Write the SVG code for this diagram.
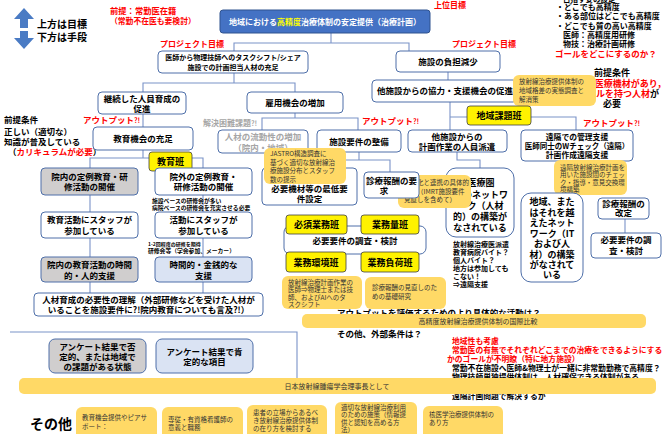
<svg xmlns="http://www.w3.org/2000/svg" width="672" height="434" viewBox="0 0 672 434">
<style>
text{font-family:"Noto Sans CJK JP","Noto Sans",sans-serif;font-weight:700;fill:#000}
.c{text-anchor:middle}
.f{font-size:8.5px}
.s{font-size:7px}
.r{fill:#FF0000}
.gy{fill:#A6A6A6}
.bx{fill:#fff;stroke:#4E6FA9;stroke-width:1}
.gb{fill:#D0CECE;stroke:#4E6FA9;stroke-width:1}
.lb{fill:#DAE3F3;stroke:#4E6FA9;stroke-width:1}
.nt{fill:#FFD966}
.ntx{font-size:6.5px;font-weight:400;fill:#333}
.yl{fill:#FFF200;stroke:#404040;stroke-width:0.8}
.ytx{font-size:9px;text-anchor:middle}
.tb{font-size:9px;text-anchor:middle}
#conn line,#conn polyline{stroke:#7A93C8;stroke-width:1.1;fill:none}
</style>

<g id="conn">
<polyline points="331,33 331,43"/>
<polyline points="234,51 234,43 409,43 409,51"/>
<polyline points="234,73 234,83"/>
<polyline points="143,92 143,83 295,83 295,92"/>
<polyline points="143,114 143,127"/>
<polyline points="448,72 448,80"/>
<polyline points="450,102 450,130"/>
<polyline points="450,117 576,117 576,130"/>
<polyline points="295,113 295,118"/>
<polyline points="262,130 262,118 358,118 358,130"/>
<polyline points="359,152 359,160"/>
<polyline points="309,168 309,160 390,160 390,172"/>
<polyline points="143,150 143,158"/>
<polyline points="90,293 90,158 203,158 203,293"/>
<polyline points="457,152 457,160 480,160 480,168"/>
<polyline points="625,219 625,233"/>
<polyline points="10,332 297,332 297,378"/>
</g>

<g id="legend">
<polygon points="24,8 34,19 28,19 28,28 20,28 20,19 14,19" fill="#4A7BC4"/>
<polygon points="20,31 28,31 28,38 34,38 24,49 14,38 20,38" fill="#4A7BC4"/>
<text x="37" y="28" style="font-size:10px">上方は目標</text>
<text x="37" y="41" style="font-size:10px">下方は手段</text>
</g>

<g id="premise-top">
<text x="110" y="14" class="r" style="font-size:8.3px">前提：常勤医在籍</text>
<text x="110" y="24" class="r" style="font-size:7.8px">（常勤不在医も要検討）</text>
</g>

<g id="top-goal">
<text x="434" y="8" class="r" style="font-size:8px">上位目標</text>
<rect x="220" y="10" width="210" height="23" rx="3" fill="#4472C4" stroke="#2F528F"/>
<text x="325" y="24.5" class="c" style="font-size:8px;fill:#fff">地域における<tspan style="fill:#FFFF00">高精度</tspan>治療体制の安定提供（治療計画）</text>
</g>

<g id="goal-notes">
<text x="563" y="1.5" style="font-size:7.5px">目指す姿の設定</text>
<text x="556" y="10" style="font-size:8px">・どこでも高精度</text>
<text x="556" y="19" style="font-size:8px">・ある部位はどこでも高精度</text>
<text x="556" y="29" style="font-size:8px">・どこでも質の高い高精度</text>
<text x="563" y="37.5" style="font-size:8px">医師：高精度用研修</text>
<text x="563" y="46.5" style="font-size:8px">物技：治療計画研修</text>
<text x="555" y="56.5" class="r" style="font-size:8.5px">ゴールをどこにするのか？</text>
</g>

<g id="proj1">
<text x="160" y="47" class="r" style="font-size:8px">プロジェクト目標</text>
<rect x="158" y="51" width="150" height="22" rx="4" class="bx"/>
<text x="233" y="60" class="c" style="font-size:7px">医師から物理技師へのタスクシフト/シェア</text>
<text x="233" y="70" class="c" style="font-size:7px">施設での計画担当人材の充足</text>
</g>

<g id="proj2">
<text x="452" y="47" class="r" style="font-size:8px">プロジェクト目標</text>
<rect x="396" y="51" width="104" height="21" rx="4" class="bx"/>
<text x="448" y="64.5" class="c f">施設の負担減少</text>
</g>

<g id="n-keizoku">
<rect x="98" y="92" width="88" height="22" rx="4" class="bx"/>
<text x="142" y="101.5" class="c f">継続した人員育成の</text>
<text x="142" y="111.5" class="c f">促進</text>
</g>

<g id="n-koyou">
<rect x="247" y="92" width="96" height="21" rx="4" class="bx"/>
<text x="295" y="105.5" class="c f">雇用機会の増加</text>
</g>

<g id="n-tashisetsu">
<rect x="372" y="80" width="145" height="22" rx="4" class="bx"/>
<text x="445" y="94" class="c f">他施設からの協力・支援機会の促進</text>
</g>

<g id="premise-right">
<text x="594" y="76" style="font-size:9px">前提条件</text>
<text x="666" y="87" class="r" style="font-size:9px;text-anchor:end">一定の医療機材があり，</text>
<text x="659" y="97" style="font-size:9px;text-anchor:end"><tspan class="r">スキルを持つ人材</tspan>が</text>
<text x="612" y="107" class="c" style="font-size:9px">必要</text>
</g>

<g id="note-chiiki">
<rect x="513" y="75" width="83" height="31" rx="6" class="nt"/>
<text x="519" y="84" class="ntx">放射線治療提供体制の</text>
<text x="519" y="93" class="ntx">地域格差の実態調査と</text>
<text x="519" y="102" class="ntx">解消策</text>
</g>

<g id="lbl-chiiki">
<rect x="467" y="106" width="64" height="19" rx="3" class="yl"/>
<text x="499" y="119" class="ytx">地域課題班</text>
</g>

<g id="out-right">
<text x="583" y="126" class="r f">アウトプット<tspan style="font-size:7px">?!</tspan></text>
</g>

<g id="n-enkaku">
<rect x="521" y="130" width="112" height="31" rx="4" class="bx"/>
<text x="577" y="140" class="c" style="font-size:7.8px">遠隔での管理支援</text>
<text x="577" y="149" class="c" style="font-size:7.5px">医師同士のWチェック（遠隔）</text>
<text x="577" y="158" class="c" style="font-size:7.8px">計画作成遠隔支援</text>
</g>

<g id="note-enkaku">
<rect x="554" y="160" width="73" height="35" rx="6" class="nt"/>
<text x="560" y="169.5" class="ntx">遠隔放射線治療計画を</text>
<text x="560" y="177" class="ntx">用いた施設間のチェッ</text>
<text x="560" y="184.5" class="ntx">ク・指導・意見交換環</text>
<text x="560" y="192" class="ntx">境構築</text>
</g>

<g id="n-shinryo-kaitei">
<rect x="598" y="198" width="51" height="21" rx="4" class="bx"/>
<text x="623.5" y="206.5" class="c f">診療報酬の</text>
<text x="623.5" y="216" class="c f">改定</text>
</g>

<g id="n-hitsuyo-right">
<rect x="591" y="233" width="70" height="25" rx="4" class="bx"/>
<text x="626" y="243" class="c f">必要要件の調</text>
<text x="626" y="253.5" class="c f">査・検討</text>
</g>

<g id="n-network-wide">
<rect x="521" y="193" width="62" height="89" rx="10" class="bx"/>
<text x="552" y="205" class="tb">地域、また</text>
<text x="552" y="215.5" class="tb">はそれを越</text>
<text x="552" y="226" class="tb">えたネット</text>
<text x="552" y="236.5" class="tb">ワーク（IT</text>
<text x="552" y="247" class="tb">および人</text>
<text x="552" y="257.5" class="tb">材）の構築</text>
<text x="552" y="268" class="tb">がなされて</text>
<text x="552" y="278" class="tb">いる</text>
</g>

<g id="n-keikaku-haken">
<rect x="408" y="130" width="99" height="22" rx="4" class="bx"/>
<text x="457" y="139.5" class="c f">他施設からの</text>
<text x="457" y="149.5" class="c f">計画作業の人員派遣</text>
</g>

<g id="n-network-local">
<rect x="446" y="168" width="68" height="69" rx="10" class="bx"/>
<text x="481" y="186" class="tb">医療圏</text>
<text x="481" y="197.5" class="tb">内のネットワ</text>
<text x="481" y="208.5" class="tb">ーク（人材</text>
<text x="480" y="219.5" class="tb">的）の構築が</text>
<text x="480" y="230.5" class="tb">なされている</text>
</g>

<g id="note-shuyaku">
<rect x="398" y="175" width="73" height="33" rx="6" class="nt"/>
<text x="404" y="185" class="ntx">集約化と連携の具体的</text>
<text x="404" y="193.5" class="ntx">方法（IMRT施設要件</text>
<text x="404" y="202" class="ntx">見直しを含めて）</text>
</g>

<g id="memo-haken">
<text x="453" y="246.5" class="s">放射線治療医派遣</text>
<text x="453" y="254.5" class="s">教育病院バイト？</text>
<text x="453" y="262.5" class="s">個人バイト？</text>
<text x="453" y="270.5" class="s">地方は参加しても</text>
<text x="453" y="278.5" class="s">こない！</text>
<text x="453" y="286.5" class="s">⇒遠隔支援</text>
</g>

<g id="n-ryudosei">
<text x="203" y="126" class="gy" style="font-size:8px">解決困難課題<tspan style="font-size:7px">?!</tspan></text>
<rect x="218" y="130" width="90" height="23" rx="4" class="bx"/>
<text x="263" y="140" class="c f gy">人材の流動性の増加</text>
<text x="263" y="150.5" class="c f gy">（院内・地域）</text>
</g>

<g id="n-shisetsu-yoken">
<text x="362" y="124" class="r f">アウトプット<tspan style="font-size:7px">?!</tspan></text>
<rect x="317" y="130" width="84" height="22" rx="4" class="bx"/>
<text x="359" y="144.5" class="c f">施設要件の整備</text>
</g>

<g id="n-kizai">
<rect x="262" y="168" width="95" height="37" rx="4" class="bx"/>
<text x="309.5" y="192" class="c f">必要機材等の最低要</text>
<text x="309.5" y="202" class="c f">件設定</text>
</g>

<g id="n-shinryo-yokyu">
<rect x="364" y="172" width="55" height="26" rx="4" class="bx"/>
<text x="366" y="183.5" class="f">診療報酬の要</text>
<text x="384" y="194" class="c f">求</text>
</g>

<g id="note-jastro">
<rect x="264" y="148" width="82" height="36" rx="6" class="nt"/>
<text x="270" y="156" class="ntx">JASTRO構造調査に</text>
<text x="270" y="164.5" class="ntx">基づく適切な放射線治</text>
<text x="270" y="173" class="ntx">療施設分布とスタッフ</text>
<text x="270" y="181.5" class="ntx">数の提示</text>
</g>

<g id="n-hitsuyo-center">
<rect x="284" y="226" width="142" height="28" rx="6" class="bx"/>
<text x="355" y="244" class="c f">必要要件の調査・検討</text>
</g>

<g id="lbl-hissu">
<rect x="286" y="215" width="61" height="19" rx="3" class="yl"/>
<text x="316.5" y="228" class="ytx">必須業務班</text>
</g>
<g id="lbl-ryo">
<rect x="361" y="215" width="58" height="19" rx="3" class="yl"/>
<text x="390" y="228" class="ytx">業務量班</text>
</g>
<g id="lbl-kankyo">
<rect x="286" y="252" width="60" height="20" rx="3" class="yl"/>
<text x="316" y="265.5" class="ytx">業務環境班</text>
</g>
<g id="lbl-fuka">
<rect x="361" y="252" width="58" height="20" rx="3" class="yl"/>
<text x="390" y="265.5" class="ytx">業務負荷班</text>
</g>

<g id="note-taskshift">
<rect x="282" y="276" width="80" height="33" rx="6" class="nt"/>
<text x="288" y="284.5" class="ntx">放射線治療計画作業の</text>
<text x="288" y="292" class="ntx">医師⇒物理士または技</text>
<text x="288" y="299.5" class="ntx">師、およびAIへのタ</text>
<text x="288" y="307" class="ntx">スクシフト</text>
</g>
<g id="note-shinryo-kenkyu">
<rect x="365" y="277" width="81" height="32" rx="6" class="nt"/>
<text x="372" y="290" class="ntx">診療報酬の見直しのた</text>
<text x="372" y="298.5" class="ntx">めの基礎研究</text>
</g>

<g id="q-output">
<text x="337" y="316" class="f">アウトプットを評価するためのより具体的な活動は？</text>
<rect x="302" y="314" width="344" height="14" rx="5" class="nt"/>
<text x="478" y="323.5" class="c ntx" style="font-size:7px">高精度放射線治療提供体制の国際比較</text>
<text x="337" y="337" class="f">その他、外部条件は？</text>
</g>

<g id="memo-right">
<text x="452" y="344" class="r" style="font-size:7.8px">地域性も考慮</text>
<text x="452" y="353" class="r" style="font-size:7.8px">常勤医の有無でそれぞれどこまでの治療をできるようにする</text>
<text x="447" y="361.5" class="r" style="font-size:7.8px">かのゴールが不明瞭（特に地方施設）</text>
<text x="452" y="370.5" style="font-size:7.8px">常勤不在施設へ医師&amp;物理士が一緒に非常勤勤務で高精度？</text>
<text x="452" y="379.5" style="font-size:7.8px">物理技師単独提供体制は，人材確保できる体制がある．</text>
<text x="452" y="399" style="font-size:7.8px">遠隔計画問題で解決するか</text>
</g>

<g id="n-output-left">
<text x="4" y="123" class="f">前提条件</text>
<text x="4" y="135" class="f">正しい（適切な）</text>
<text x="4" y="145" class="f">知識が普及している</text>
<text x="8" y="155" class="f">（<tspan class="r">カリキュラムが必要</tspan>）</text>
<text x="83" y="123" class="r f">アウトプット<tspan style="font-size:7px">?!</tspan></text>
<rect x="93" y="127" width="100" height="23" rx="4" class="bx"/>
<text x="143" y="141.5" class="c f">教育機会の充足</text>
</g>

<g id="lbl-kyoiku">
<rect x="149" y="152" width="43" height="19" rx="3" class="yl"/>
<text x="170.5" y="165" class="ytx">教育班</text>
</g>

<g id="n-innai-teirei">
<rect x="41" y="168" width="97" height="27" rx="4" class="gb"/>
<text x="89.5" y="179.5" class="c f">院内の定例教育・研</text>
<text x="89.5" y="190" class="c f">修活動の開催</text>
</g>
<g id="n-ingai-teirei">
<rect x="155" y="168" width="97" height="27" rx="4" class="bx"/>
<text x="203.5" y="179.5" class="c f">院外の定例教育・</text>
<text x="203.5" y="190" class="c f">研修活動の開催</text>
<text x="152" y="202.5" style="font-size:5.8px">施設ベースの研修会が多い</text>
<text x="152" y="209.5" style="font-size:5.8px">病院ベースの研修会を充実させる必要</text>
</g>
<g id="n-innai-sanka">
<rect x="41" y="212" width="97" height="26" rx="4" class="bx"/>
<text x="89.5" y="223" class="c f">教育活動にスタッフが</text>
<text x="89.5" y="233.5" class="c f">参加している</text>
</g>
<g id="n-ingai-sanka">
<rect x="155" y="212" width="97" height="26" rx="4" class="bx"/>
<text x="203.5" y="223" class="c f">活動にスタッフが</text>
<text x="203.5" y="233.5" class="c f">参加している</text>
<text x="148" y="246" style="font-size:5px">1-2回程度の研修を期待</text>
<text x="148" y="253" style="font-size:5.8px">研修会等（学会参加、メーカー）</text>
</g>
<g id="n-innai-shien">
<rect x="41" y="257" width="97" height="25" rx="4" class="gb"/>
<text x="89.5" y="268" class="c f">院内の教育活動の時間</text>
<text x="89.5" y="278.5" class="c f">的・人的支援</text>
</g>
<g id="n-ingai-shien">
<rect x="155" y="257" width="97" height="25" rx="4" class="lb"/>
<text x="203.5" y="268" class="c f">時間的・金銭的な</text>
<text x="203.5" y="278.5" class="c f">支援</text>
</g>
<g id="n-rikai">
<rect x="34" y="293" width="229" height="23" rx="4" class="bx"/>
<text x="148.5" y="302.5" class="c f">人材育成の必要性の理解（外部研修などを受けた人材が</text>
<text x="148.5" y="312.5" class="c f">いることを施設要件に?!院内教育についても言及?!）</text>
</g>

<g id="n-survey-neg">
<rect x="49" y="339" width="97" height="34" rx="6" class="gb"/>
<text x="97.5" y="350" class="c f">アンケート結果で否</text>
<text x="97.5" y="360" class="c f">定的、または地域で</text>
<text x="97.5" y="370" class="c f">の課題がある状態</text>
</g>
<g id="n-survey-pos">
<rect x="156" y="339" width="97" height="34" rx="6" class="lb"/>
<text x="204.5" y="355" class="c f">アンケート結果で肯</text>
<text x="204.5" y="364.5" class="c f">定的な項目</text>
</g>

<g id="bar-jastro">
<rect x="19" y="378" width="637" height="16" rx="5" class="nt"/>
<text x="337" y="389" class="c ntx" style="font-size:7px">日本放射線腫瘍学会理事長として</text>
</g>

<g id="others">
<text x="30" y="429" style="font-size:14px">その他</text>
<rect x="76" y="407" width="81" height="32" rx="6" class="nt"/>
<text x="82" y="420" class="ntx">教育機会提供やピアサ</text>
<text x="82" y="429" class="ntx">ポート：</text>
<rect x="162" y="407" width="81" height="32" rx="6" class="nt"/>
<text x="168" y="422" class="ntx">専従・有資格看護師の</text>
<text x="168" y="430" class="ntx">意義と職務</text>
<rect x="247" y="405" width="80" height="34" rx="6" class="nt"/>
<text x="253" y="414.5" class="ntx">患者の立場からあるべ</text>
<text x="253" y="422.5" class="ntx">き放射線治療提供体制</text>
<text x="253" y="430.5" class="ntx">の在り方を検討する</text>
<rect x="335" y="402" width="82" height="37" rx="6" class="nt"/>
<text x="341" y="409.5" class="ntx">適切な放射線治療利用</text>
<text x="341" y="417" class="ntx">のための施策（情報提</text>
<text x="341" y="424.5" class="ntx">供と認知を高める方</text>
<text x="341" y="432" class="ntx">法）</text>
<rect x="423" y="406" width="80" height="33" rx="6" class="nt"/>
<text x="429" y="416.5" class="ntx">核医学治療提供体制の</text>
<text x="429" y="424.5" class="ntx">あり方</text>
</g>
</svg>
